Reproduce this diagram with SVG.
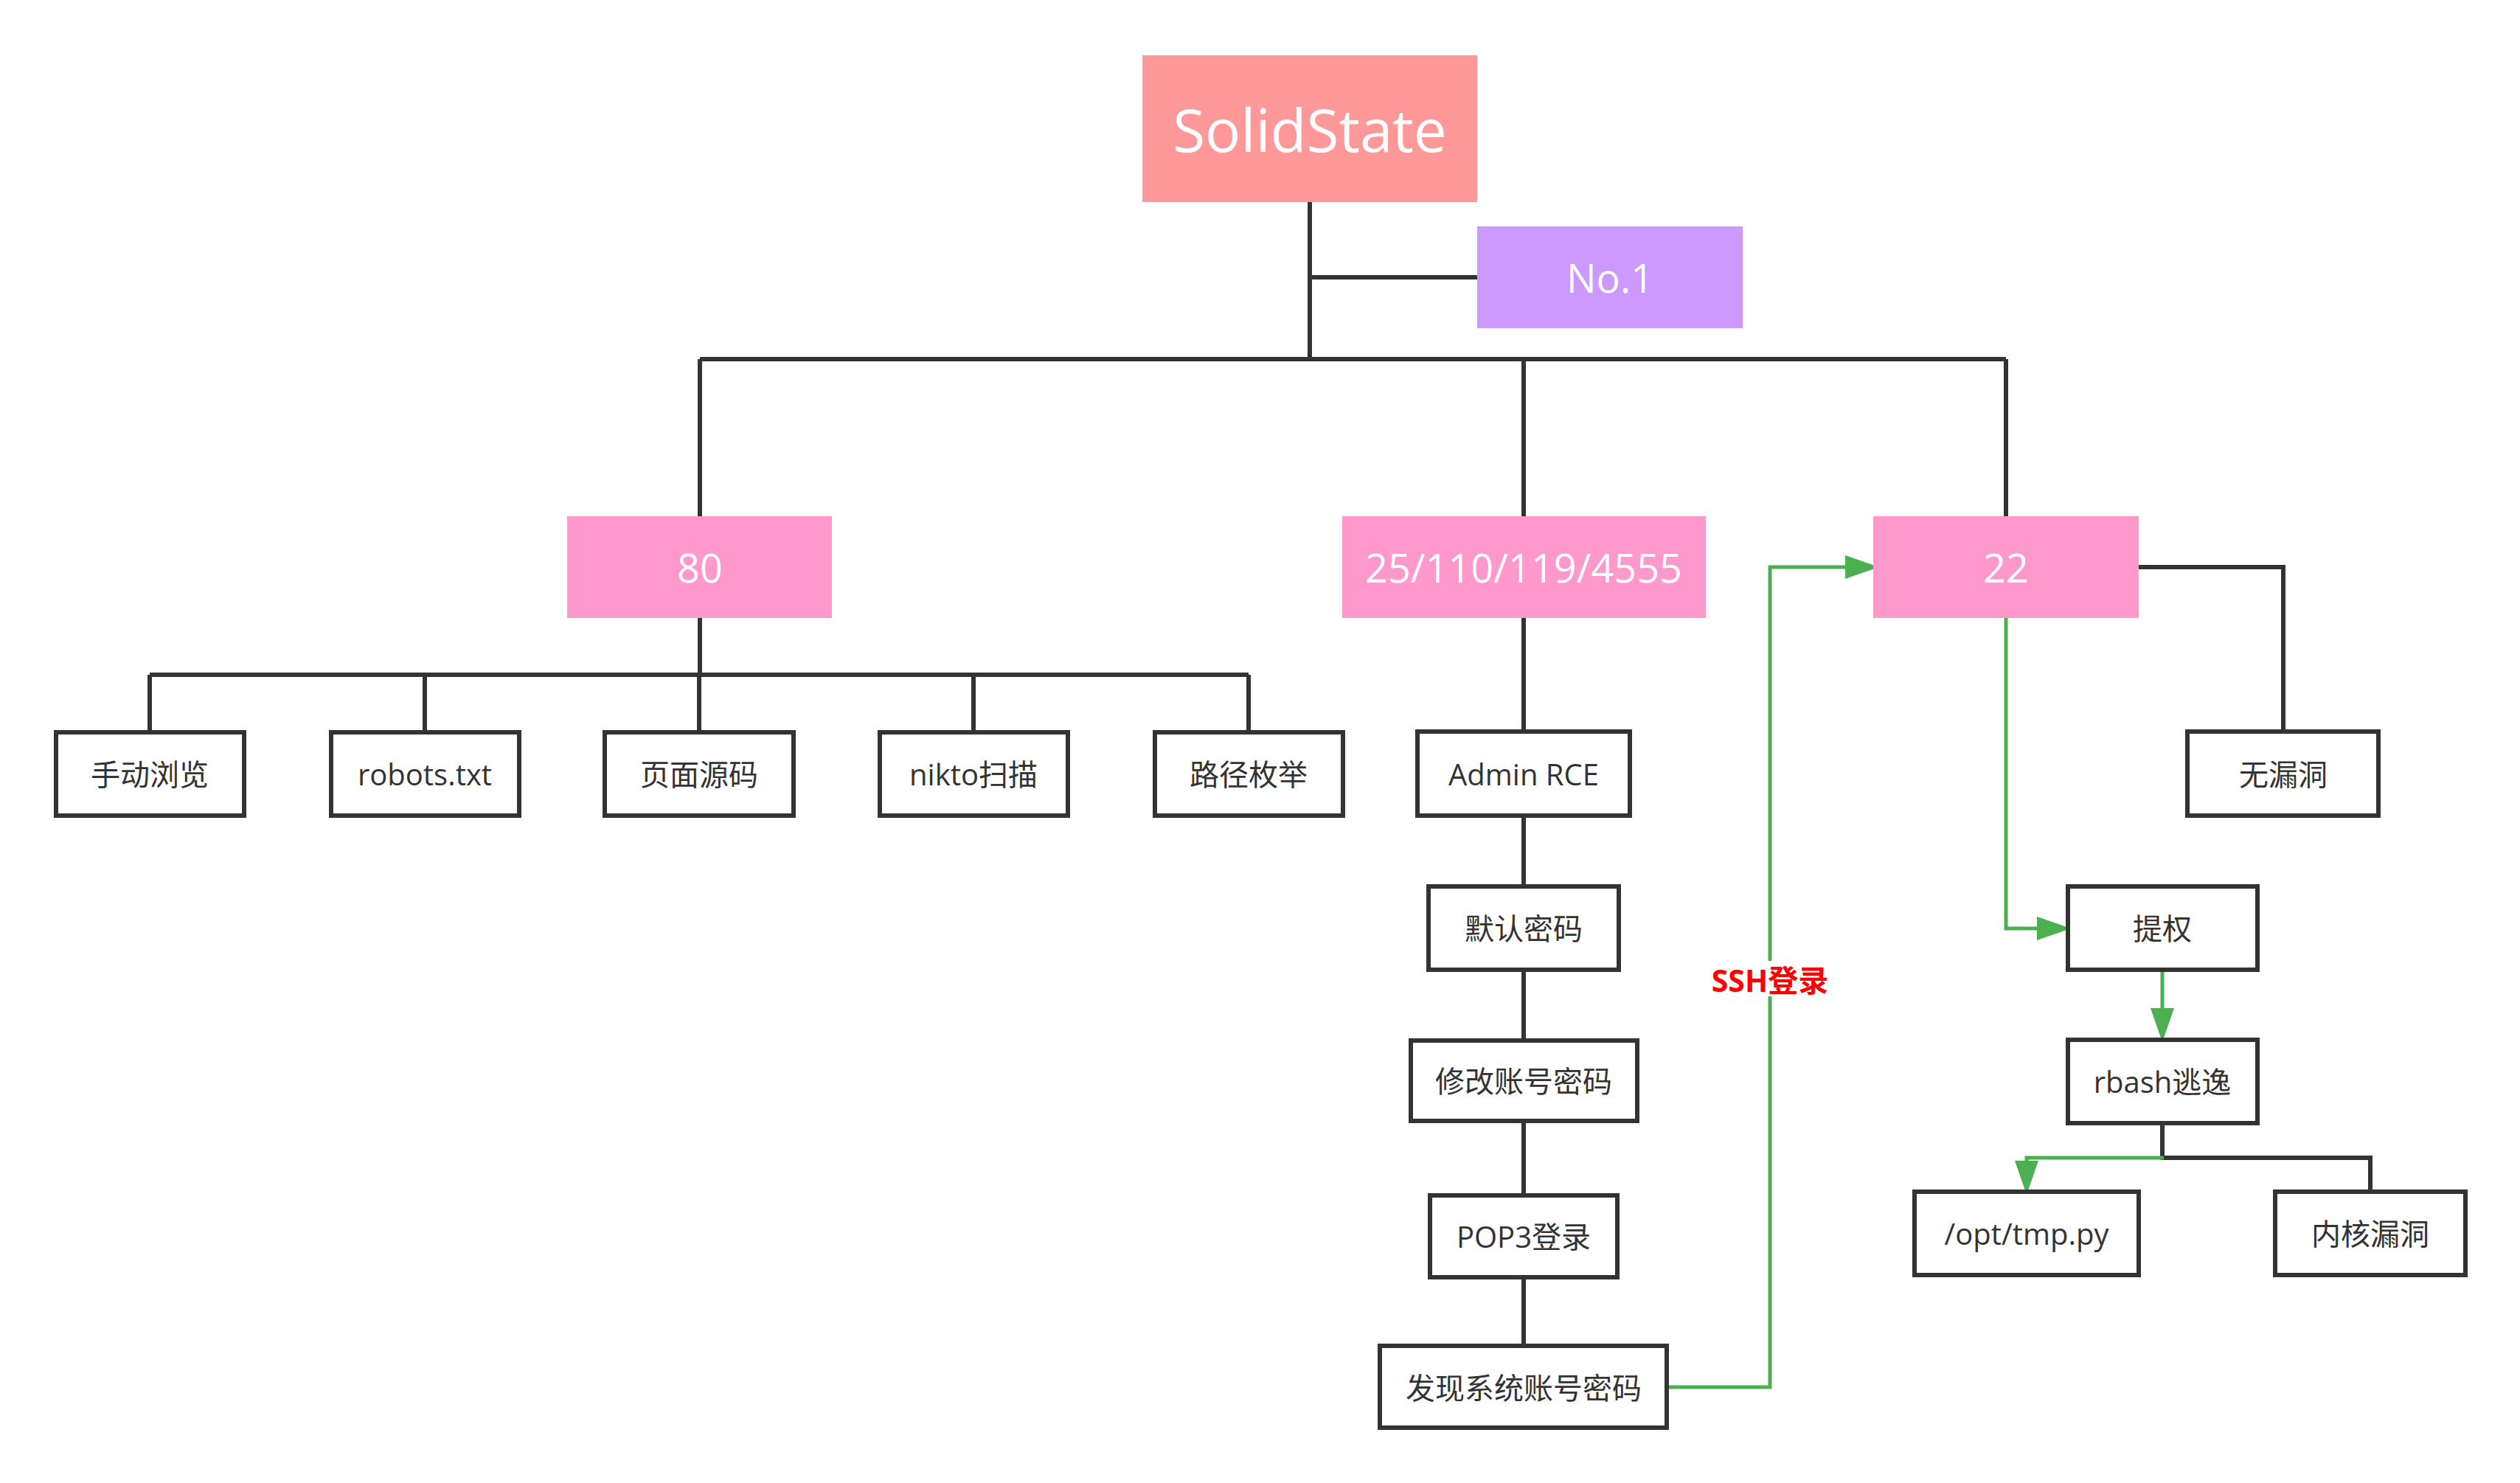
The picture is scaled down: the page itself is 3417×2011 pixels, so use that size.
<svg xmlns="http://www.w3.org/2000/svg" width="3417" height="2011" viewBox="0 0 3417 2011">
<style>
.bg{fill:#ffffff}
.root{fill:#FF9999}
.tag{fill:#CC99FF}
.port{fill:#FF99CC}
.box{fill:#ffffff;stroke:#333333;stroke-width:6}
.t{font-family:"Open Sans","Noto Sans CJK SC",sans-serif;text-anchor:middle;dominant-baseline:central}
.w{fill:#ffffff}
.d{fill:#333333;font-size:40px}
.ln{fill:none;stroke:#333333;stroke-width:6}
.gl{fill:none;stroke:#4CAF50;stroke-width:5}
.lbl{font-family:"Open Sans","Noto Sans CJK SC",sans-serif;font-weight:bold;font-size:41px;fill:#FF0000;text-anchor:middle;dominant-baseline:central}
</style>
<defs>
<marker id="ga" markerUnits="userSpaceOnUse" markerWidth="46" markerHeight="32" refX="0" refY="16" orient="auto">
<path d="M0,0 L46,16 L0,32 z" fill="#4CAF50"/>
</marker>
</defs>
<rect class="bg" x="0" y="0" width="3417" height="2011"/>
<g id="connectors">
<path class="ln" d="M1776 274 V487"/>
<path class="ln" d="M1776 376 H2003"/>
<path class="ln" d="M949 487 H2720"/>
<path class="ln" d="M949 487 V700 M2066 487 V700 M2720 487 V700"/>
<path class="ln" d="M949 838 V915"/>
<path class="ln" d="M203 915 H1693"/>
<path class="ln" d="M203 915 V990 M576 915 V990 M948 915 V990 M1320 915 V990 M1693 915 V990"/>
<path class="ln" d="M2066 838 V989 M2066 1109 V1199 M2066 1318 V1408 M2066 1523 V1618 M2066 1735 V1822"/>
<path class="ln" d="M2900 769 H3096 V989"/>
<path class="ln" d="M2932 1526 V1570 H3214 V1613"/>
<path class="gl" d="M2720 838 V1259 H2762" marker-end="url(#ga)"/>
<path class="gl" d="M2932 1318 V1367" marker-end="url(#ga)"/>
<path class="gl" d="M2934 1570 H2748 V1574" marker-end="url(#ga)"/>
<path class="gl" d="M2263 1881 H2400 V769 H2502" marker-end="url(#ga)"/>
<rect x="2314" y="1303" width="172" height="48" fill="#ffffff"/>
<text class="lbl" x="2400" y="1329">SSH登录</text>
</g>
<g id="n-root"><rect class="root" x="1549" y="75" width="454" height="199"/><text class="t w" x="1776" y="174" font-size="80">SolidState</text></g>
<g id="n-no1"><rect class="tag" x="2003" y="307" width="360" height="138"/><text class="t w" x="2183" y="376" font-size="54">No.1</text></g>
<g id="n-80"><rect class="port" x="769" y="700" width="359" height="138"/><text class="t w" x="949" y="769" font-size="54">80</text></g>
<g id="n-mail"><rect class="port" x="1820" y="700" width="493" height="138"/><text class="t w" x="2066" y="769" font-size="54">25/110/119/4555</text></g>
<g id="n-22"><rect class="port" x="2540" y="700" width="360" height="138"/><text class="t w" x="2720" y="769" font-size="54">22</text></g>
<g id="n-manual"><rect class="box" x="76" y="993" width="255" height="113"/><text class="t d" x="203" y="1049">手动浏览</text></g>
<g id="n-robots"><rect class="box" x="449" y="993" width="255" height="113"/><text class="t d" x="576" y="1049">robots.txt</text></g>
<g id="n-source"><rect class="box" x="820" y="993" width="256" height="113"/><text class="t d" x="948" y="1049">页面源码</text></g>
<g id="n-nikto"><rect class="box" x="1193" y="993" width="255" height="113"/><text class="t d" x="1320" y="1049">nikto扫描</text></g>
<g id="n-path"><rect class="box" x="1566" y="993" width="255" height="113"/><text class="t d" x="1693" y="1049">路径枚举</text></g>
<g id="n-admin"><rect class="box" x="1922" y="992" width="288" height="114"/><text class="t d" x="2066" y="1049">Admin RCE</text></g>
<g id="n-default"><rect class="box" x="1937" y="1202" width="258" height="113"/><text class="t d" x="2066" y="1258">默认密码</text></g>
<g id="n-change"><rect class="box" x="1913" y="1411" width="307" height="109"/><text class="t d" x="2066" y="1465">修改账号密码</text></g>
<g id="n-pop3"><rect class="box" x="1939" y="1621" width="254" height="111"/><text class="t d" x="2066" y="1676">POP3登录</text></g>
<g id="n-found"><rect class="box" x="1871" y="1825" width="389" height="111"/><text class="t d" x="2066" y="1881">发现系统账号密码</text></g>
<g id="n-novuln"><rect class="box" x="2966" y="992" width="259" height="114"/><text class="t d" x="3096" y="1049">无漏洞</text></g>
<g id="n-priv"><rect class="box" x="2804" y="1202" width="257" height="113"/><text class="t d" x="2932" y="1258">提权</text></g>
<g id="n-rbash"><rect class="box" x="2804" y="1410" width="257" height="113"/><text class="t d" x="2932" y="1466">rbash逃逸</text></g>
<g id="n-opt"><rect class="box" x="2596" y="1616" width="304" height="113"/><text class="t d" x="2748" y="1672">/opt/tmp.py</text></g>
<g id="n-kernel"><rect class="box" x="3085" y="1616" width="258" height="113"/><text class="t d" x="3214" y="1672">内核漏洞</text></g>
</svg>
